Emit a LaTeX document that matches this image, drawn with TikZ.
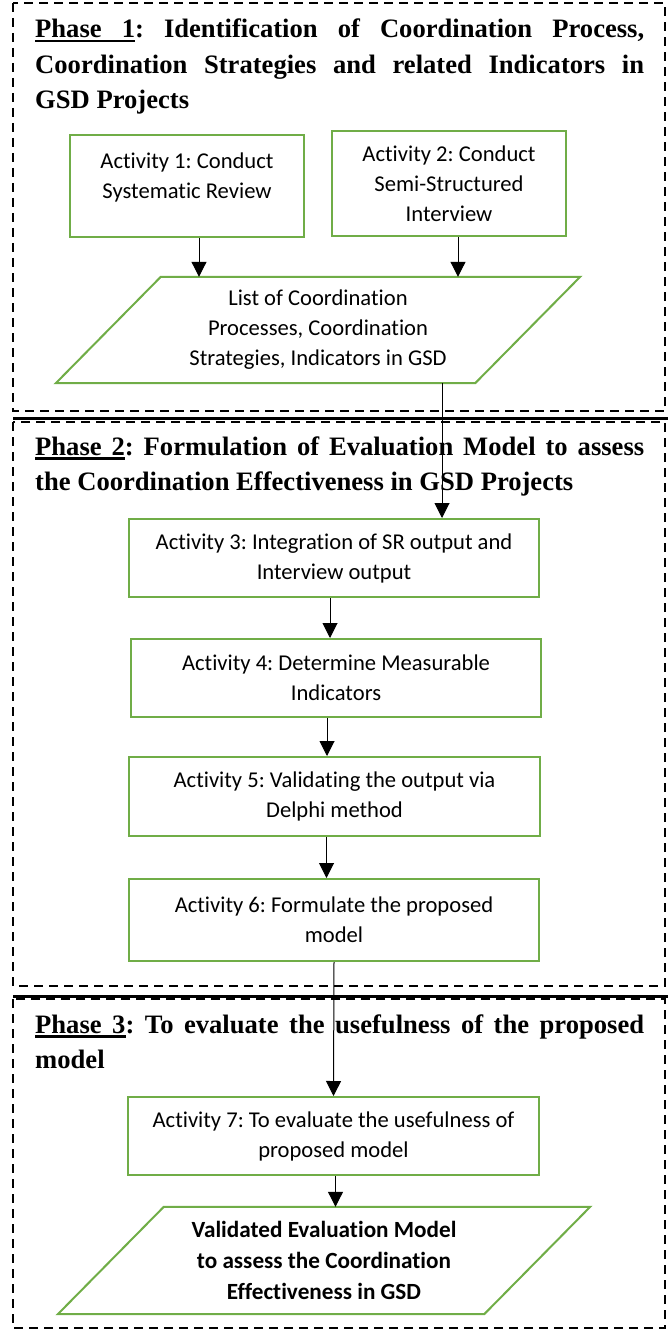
\documentclass[tikz,border=0pt]{standalone}
\usepackage{fontspec}
\setmainfont{Liberation Serif}
\newfontfamily\bodyfont[Ligatures=NoCommon]{Carlito}
\usetikzlibrary{positioning, arrows.meta, calc}
\definecolor{actGreen}{HTML}{70AD47}
\frenchspacing
% underlined phase label (the gap before the number may stretch)
\newcommand{\phaseul}[1]{\setbox0\hbox{#1}\rlap{\rule[-4.5pt]{\wd0}{2.4pt}}\box0}
\newcommand{\phasetag}[1]{\phaseul{Phase}\leaders\hrule height -2.1pt depth 4.5pt\hskip\fontdimen2\font plus\fontdimen3\font\phaseul{#1}}

\begin{document}
\begin{tikzpicture}[x=1pt, y=-1pt,
    phase/.style={draw=black, line width=2.8pt, dash pattern=on 9pt off 6pt},
    divider/.style={draw=black, line width=3pt},
    heading/.style={anchor=base west, inner sep=0pt, text width=609pt,
      align=justify, font=\bfseries\fontsize{26.6}{35.5}\selectfont},
    activity/.style={rectangle, draw=actGreen, line width=2pt,
      minimum width=410pt, minimum height=78pt, align=center, inner sep=2pt,
      font=\bodyfont\fontsize{22.6}{30}\selectfont},
    data/.style={inner sep=0pt, minimum height=106pt, align=center,
      font=\bodyfont\fontsize{22.6}{30}\selectfont},
    slant/.style={draw=actGreen, line width=2pt, line join=miter},
    arr/.style={-{Triangle[width=15pt, length=15pt]}, line width=1pt, black}
  ]
  \useasboundingbox (0,0) rectangle (668,1332);

  % Phase frames and separators
  \draw[phase] (13,3) rectangle (665,411);
  \draw[phase] (13,422) rectangle (665,986);
  \draw[phase] (13,999) rectangle (665,1328);
  \draw[divider] (13,418) -- (668,418);
  \draw[divider] (13,996) -- (668,996);

  % Phase headings
  \node[heading] (ph1) at (35,38) {\phasetag{1}: Identification of Coordination Process,\linebreak Coordination Strategies and related Indicators in\linebreak GSD Projects};
  \node[heading] (ph2) at (35,455) {\phasetag{2}: Formulation of Evaluation Model to assess\linebreak the Coordination Effectiveness in GSD Projects};
  \node[heading] (ph3) at (35,1033) {\phasetag{3}: To evaluate the usefulness of the proposed\linebreak model};

  % Phase 1
  \node[activity, line width=1.6pt, minimum width=234pt, minimum height=102pt, text depth=21pt] (act1) at (187,186) {Activity 1: Conduct\\Systematic Review};
  \node[activity, line width=2.6pt, minimum width=234pt, minimum height=105pt] (act2) at (449,183.5) {Activity 2: Conduct\\Semi-Structured\\Interview};
  \node[data, minimum width=419pt] (list) at (318,330) {List of Coordination\\Processes, Coordination\\Strategies, Indicators in GSD};
  \draw[slant] ([xshift=-52.5pt]list.south west) -- ([xshift=52.5pt]list.north west)
    -- ([xshift=52.5pt]list.north east) -- ([xshift=-52.5pt]list.south east) -- cycle;

  % Phase 2
  \node[activity] (act3) at (334,558) {Activity 3: Integration of SR output and\\Interview output};
  \node[activity] (act4) at (336,678) {Activity 4: Determine Measurable\\Indicators};
  \node[activity, minimum width=411pt, minimum height=79pt] (act5) at (334.5,796.5) {Activity 5: Validating the output via\\Delphi method};
  \node[activity, minimum height=82pt] (act6) at (334,920) {Activity 6: Formulate the proposed\\model};

  % Phase 3
  \node[activity, minimum width=411pt] (act7) at (333.5,1136) {Activity 7: To evaluate the usefulness of\\proposed model};
  \node[data, minimum width=426pt, minimum height=107pt, font=\bodyfont\bfseries\fontsize{23.2}{31}\selectfont] (model) at (324,1260.5) {Validated Evaluation Model\\to assess the Coordination\\Effectiveness in GSD};
  \draw[slant] ([xshift=-53pt]model.south west) -- ([xshift=53pt]model.north west)
    -- ([xshift=53pt]model.north east) -- ([xshift=-53pt]model.south east) -- cycle;

  % Flow
  \coordinate (drop) at (442,0);
  \draw[arr] ($(act1.south)+(12,0)$) -- ($(act1.south |- list.north)+(12,0)$);
  \draw[arr] ($(act2.south)+(9,0)$) -- ($(act2.south |- list.north)+(9,0)$);
  \draw[arr] (list.south -| drop) -- (act3.north -| drop);
  \draw[arr] ($(act3.south)+(-4,0)$) -- ($(act3.south |- act4.north)+(-4,0)$);
  \draw[arr] ($(act4.south)+(-9,0)$) -- ($(act4.south |- act5.north)+(-9,0)$);
  \draw[arr] ($(act5.south)+(-8,0)$) -- ($(act5.south |- act6.north)+(-8,0)$);
  \draw[arr] (act6.south) -- (act7.north);
  \draw[arr] ($(act7.south)+(2,0)$) -- ($(act7.south |- model.north)+(2,0)$);
\end{tikzpicture}
\end{document}
